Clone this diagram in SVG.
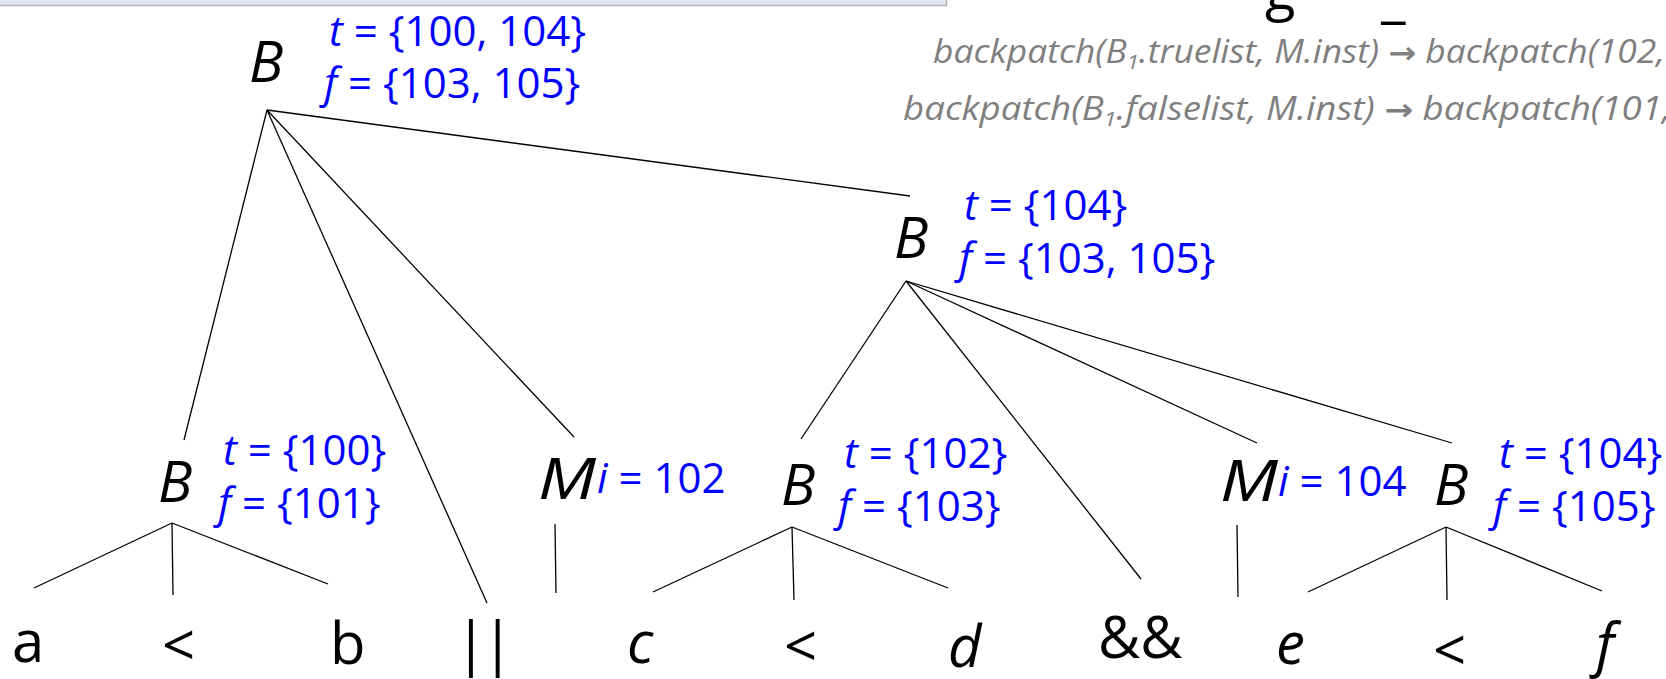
<svg xmlns="http://www.w3.org/2000/svg" width="1666" height="679" viewBox="0 0 1666 679">
<style>
.nt{font-family:"Open Sans","Liberation Sans",sans-serif;font-style:italic;font-size:57px;fill:#000}
.lf{font-family:"Open Sans","Liberation Sans",sans-serif;font-size:58px;fill:#000}
.it{font-style:italic}
.an{font-family:"Open Sans","Liberation Sans",sans-serif;font-size:42px;fill:#0000ff}
.gr{font-family:"Open Sans","Liberation Sans",sans-serif;font-style:italic;font-size:32px;fill:#7f7f7f}
.ar{font-family:"DejaVu Sans",sans-serif;font-style:normal;font-weight:bold;font-size:30px}
.ttl{font-family:"Open Sans","Liberation Sans",sans-serif;font-size:56px;fill:#000}
#connectors line{stroke:#000;stroke-width:1.3;fill:none}
</style>
<rect x="0" y="0" width="1666" height="679" fill="#fff"/>
<g id="topbar">
<rect x="-2" y="-2" width="948" height="7" fill="#dde8f4"/>
<path d="M0 5.5 H946.5 V0" stroke="#b3b3b3" stroke-width="1.5" fill="none"/>
</g>
<g id="title">
<text class="ttl" x="1265" y="9">g</text>
<text class="ttl" x="1381" y="16">_</text>
</g>
<g id="notes">
<text class="gr" x="933" y="63" textLength="732" lengthAdjust="spacingAndGlyphs">backpatch(B<tspan font-size="20" dy="6">1</tspan><tspan dy="-6">.truelist, M.inst) </tspan><tspan class="ar">→</tspan> backpatch(102,</text>
<text class="gr" x="903" y="120" textLength="768" lengthAdjust="spacingAndGlyphs">backpatch(B<tspan font-size="20" dy="6">1</tspan><tspan dy="-6">.falselist, M.inst) </tspan><tspan class="ar">→</tspan> backpatch(101,</text>
</g>
<g id="connectors">
<line x1="267" y1="110" x2="184" y2="440"/>
<line x1="267" y1="110" x2="487" y2="603"/>
<line x1="267" y1="110" x2="574" y2="437"/>
<line x1="267" y1="110" x2="910" y2="196"/>
<line x1="906" y1="281" x2="801" y2="439"/>
<line x1="906" y1="281" x2="1141" y2="579"/>
<line x1="906" y1="281" x2="1257" y2="443"/>
<line x1="906" y1="281" x2="1452" y2="443"/>
<line x1="172" y1="523" x2="34" y2="588"/>
<line x1="172" y1="523" x2="173" y2="595"/>
<line x1="172" y1="523" x2="328" y2="584"/>
<line x1="555" y1="524" x2="556" y2="593"/>
<line x1="792" y1="527" x2="653" y2="592"/>
<line x1="792" y1="527" x2="794" y2="600"/>
<line x1="792" y1="527" x2="948" y2="588"/>
<line x1="1237" y1="525" x2="1238" y2="597"/>
<line x1="1446" y1="527" x2="1308" y2="592"/>
<line x1="1446" y1="527" x2="1447" y2="600"/>
<line x1="1446" y1="527" x2="1602" y2="591"/>
</g>
<g id="B_root">
<text class="nt" x="249" y="82">B</text>
<text class="an" x="329" y="46"><tspan class="it">t</tspan> = {100, 104}</text>
<text class="an" x="324" y="98"><tspan class="it">f</tspan> = {103, 105}</text>
</g>
<g id="B_and">
<text class="nt" x="894" y="258">B</text>
<text class="an" x="964" y="220"><tspan class="it">t</tspan> = {104}</text>
<text class="an" x="959" y="273"><tspan class="it">f</tspan> = {103, 105}</text>
</g>
<g id="B_ab">
<text class="nt" x="158" y="502">B</text>
<text class="an" x="223" y="465"><tspan class="it">t</tspan> = {100}</text>
<text class="an" x="218" y="518"><tspan class="it">f</tspan> = {101}</text>
</g>
<g id="M1">
<text class="nt" x="538" y="499" textLength="58" lengthAdjust="spacingAndGlyphs">M</text>
<text class="an" x="597" y="493"><tspan class="it">i</tspan> = 102</text>
</g>
<g id="B_cd">
<text class="nt" x="781" y="505">B</text>
<text class="an" x="844" y="468"><tspan class="it">t</tspan> = {102}</text>
<text class="an" x="838" y="521"><tspan class="it">f</tspan> = {103}</text>
</g>
<g id="M2">
<text class="nt" x="1220" y="501" textLength="58" lengthAdjust="spacingAndGlyphs">M</text>
<text class="an" x="1278" y="496"><tspan class="it">i</tspan> = 104</text>
</g>
<g id="B_ef">
<text class="nt" x="1434" y="505">B</text>
<text class="an" x="1499" y="468"><tspan class="it">t</tspan> = {104}</text>
<text class="an" x="1493" y="521"><tspan class="it">f</tspan> = {105}</text>
</g>
<g id="leaf_a"><text class="lf" x="12" y="662">a</text></g>
<g id="leaf_lt1"><text class="lf" x="162" y="666">&lt;</text></g>
<g id="leaf_b"><text class="lf" x="330" y="664">b</text></g>
<g id="leaf_or"><text class="lf" x="455" y="664" letter-spacing="-5">||</text></g>
<g id="leaf_c"><text class="lf it" x="627" y="663">c</text></g>
<g id="leaf_lt2"><text class="lf" x="784" y="667">&lt;</text></g>
<g id="leaf_d"><text class="lf it" x="948" y="667">d</text></g>
<g id="leaf_and"><text class="lf" x="1098" y="658">&amp;&amp;</text></g>
<g id="leaf_e"><text class="lf it" x="1276" y="664">e</text></g>
<g id="leaf_lt3"><text class="lf" x="1433" y="671">&lt;</text></g>
<g id="leaf_f"><text class="lf it" x="1596" y="665">f</text></g>
</svg>
